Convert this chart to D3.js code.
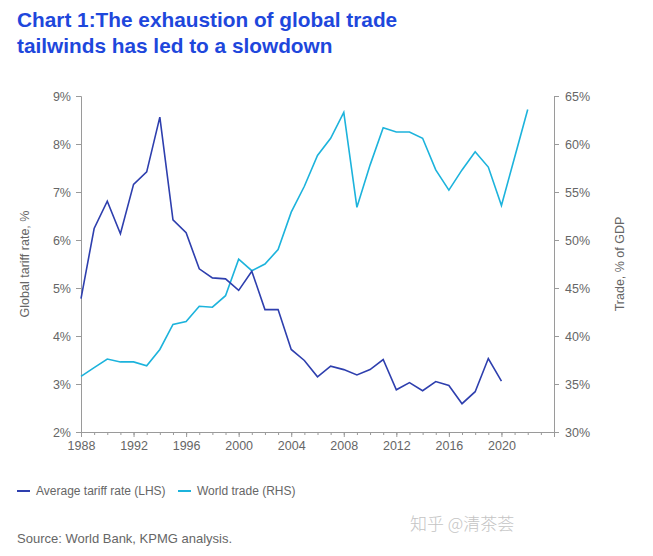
<!DOCTYPE html>
<html><head><meta charset="utf-8">
<script src="https://cdn.jsdelivr.net/npm/d3@7"></script>
<style>body{margin:0;background:#fff;} svg{display:block;font-family:"Liberation Sans",Arial,sans-serif;}</style>
</head><body>
<svg id="c" width="653" height="556"></svg>
<script>
const years = d3.range(1988, 2023);
const tariffYears = d3.range(1988, 2021);
const tariff = [4.78,6.24,6.81,6.13,7.16,7.42,8.56,6.42,6.15,5.40,5.21,5.19,4.95,5.35,4.55,4.55,3.72,3.49,3.15,3.37,3.30,3.19,3.30,3.51,2.88,3.03,2.86,3.05,2.97,2.59,2.84,3.53,3.06];
const trade = [35.8,36.7,37.6,37.3,37.3,36.9,38.6,41.2,41.5,43.1,43.0,44.2,48.0,46.8,47.5,49.0,52.9,55.6,58.8,60.6,63.3,53.4,57.8,61.7,61.25,61.25,60.6,57.3,55.2,57.3,59.2,57.6,53.6,58.6,63.6];
const leftTicks = [2,3,4,5,6,7,8,9];
const rightTicks = [30,35,40,45,50,55,60,65];
const xTicks = [1988,1992,1996,2000,2004,2008,2012,2016,2020];

const svg = d3.select("#c");
const L = 81, R = 554, T = 96, B = 432;
const x = d3.scaleLinear().domain([1988, 2024]).range([L, R]);
const yL = d3.scaleLinear().domain([2, 9]).range([B, T]);
const yR = d3.scaleLinear().domain([30, 65]).range([B, T]);
const axisCol = "#9a9a9a", textCol = "#666";

// title
const title = svg.append("text").attr("x", 17).attr("fill", "#1e47dc")
  .style("font-weight", "bold").style("font-size", "20.8px");
title.append("tspan").attr("x", 17).attr("y", 27).text("Chart 1:The exhaustion of global trade");
title.append("tspan").attr("x", 17).attr("y", 53).text("tailwinds has led to a slowdown");

// axes
const gL = svg.append("g").attr("transform", `translate(${L},0)`)
  .call(d3.axisLeft(yL).tickValues(leftTicks).tickFormat(d => d + "%").tickSize(5).tickPadding(5));
const gR = svg.append("g").attr("transform", `translate(${R},0)`)
  .call(d3.axisRight(yR).tickValues(rightTicks).tickFormat(d => d + "%").tickSize(5).tickPadding(6));
const gXm = svg.append("g").attr("transform", `translate(0,${B})`)
  .call(d3.axisBottom(x).tickValues(d3.range(1988, 2025)).tickFormat("").tickSize(3));
const gX = svg.append("g").attr("transform", `translate(0,${B})`)
  .call(d3.axisBottom(x).tickValues(xTicks).tickFormat(d3.format("d")).tickSize(5).tickPadding(4));
[gL, gR, gXm, gX].forEach(g => {
  g.selectAll("path,line").attr("stroke", axisCol);
  g.selectAll("text").attr("fill", textCol).style("font-size", "12.5px").style("font-family", "Liberation Sans, Arial, sans-serif");
});

// axis titles
svg.append("text").attr("transform", `translate(29,${(T + B) / 2}) rotate(-90)`)
  .attr("text-anchor", "middle").attr("fill", textCol).style("font-size", "12.5px").text("Global tariff rate, %");
svg.append("text").attr("transform", `translate(624,${(T + B) / 2}) rotate(-90)`)
  .attr("text-anchor", "middle").attr("fill", textCol).style("font-size", "12.5px").text("Trade, % of GDP");

// lines
const tradeCol = "#1cb3dc", tariffCol = "#2e3fae";
svg.append("path").datum(years.map((y, i) => [y, trade[i]]))
  .attr("fill", "none").attr("stroke", tradeCol).attr("stroke-width", 1.6)
  .attr("d", d3.line().x(d => x(d[0])).y(d => yR(d[1])));
svg.append("path").datum(tariffYears.map((y, i) => [y, tariff[i]]))
  .attr("fill", "none").attr("stroke", tariffCol).attr("stroke-width", 1.6)
  .attr("d", d3.line().x(d => x(d[0])).y(d => yL(d[1])));

// legend
const legend = [{label: "Average tariff rate (LHS)", col: tariffCol, x: 17}, {label: "World trade (RHS)", col: tradeCol, x: 178}];
legend.forEach(l => {
  svg.append("line").attr("x1", l.x).attr("x2", l.x + 13).attr("y1", 491).attr("y2", 491)
    .attr("stroke", l.col).attr("stroke-width", 2);
  svg.append("text").attr("x", l.x + 19).attr("y", 495).attr("fill", textCol)
    .style("font-size", "12px").text(l.label);
});

// source
svg.append("text").attr("x", 17).attr("y", 543).attr("fill", "#666").style("font-size", "13px")
  .text("Source: World Bank, KPMG analysis.");
svg.append("text").attr("x", 410).attr("y", 530).attr("fill", "#c4c4c4")
  .style("font-family", "Noto Sans CJK SC, sans-serif").style("font-size", "17px").style("font-weight", "300").text("知乎 @清茶荟");
</script>
</body></html>
